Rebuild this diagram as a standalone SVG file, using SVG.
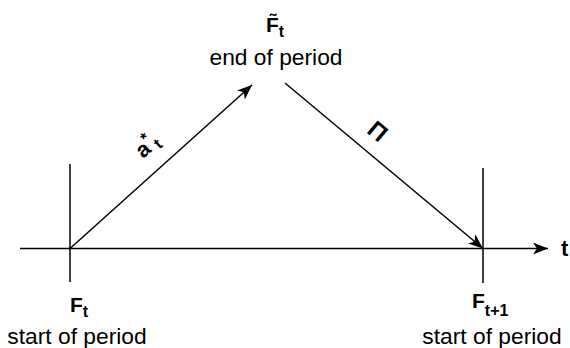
<svg xmlns="http://www.w3.org/2000/svg" width="570" height="348" viewBox="0 0 570 348">
<defs>
<marker id="ah" viewBox="0 0 15 12" refX="15" refY="6" markerWidth="15" markerHeight="12" markerUnits="userSpaceOnUse" orient="auto">
<path d="M0,0 L15,6 L0,12 L4,6 Z" fill="#000"/>
</marker>
</defs>
<style>
.ln{stroke:#000;stroke-width:1.5;fill:none}
.lbl{font-family:"Liberation Sans",Arial,sans-serif;font-size:22.8px;fill:#000}
.b{font-weight:bold;font-size:21px}
.sub{font-size:16px;font-weight:bold}
</style>
<g id="connectors">
<line class="ln" x1="20" y1="248.5" x2="548" y2="248.5" marker-end="url(#ah)"/>
<line class="ln" x1="70" y1="248.5" x2="252" y2="85" marker-end="url(#ah)"/>
<line class="ln" x1="285" y1="83" x2="483" y2="248.5" marker-end="url(#ah)"/>
</g>
<g id="tick-left"><line class="ln" x1="70" y1="164" x2="70" y2="282"/></g>
<g id="tick-right"><line class="ln" x1="483" y1="168" x2="483" y2="283"/></g>
<g id="node-top">
<text class="lbl b" x="266" y="32" fill="#505064">F&#x303;<tspan class="sub" dy="5" fill="#000">t</tspan></text>
<text class="lbl" x="276" y="65" text-anchor="middle">end of period</text>
</g>
<g id="node-left">
<text class="lbl b" x="70" y="312">F<tspan class="sub" dy="5">t</tspan></text>
<text class="lbl" x="77" y="344" text-anchor="middle">start of period</text>
</g>
<g id="node-right">
<text class="lbl b" x="472" y="308">F<tspan class="sub" dy="8">t+1</tspan></text>
<text class="lbl" x="492" y="344" text-anchor="middle">start of period</text>
</g>
<g id="label-t"><text class="lbl b" x="561" y="256" style="font-size:22px">t</text></g>
<g id="label-a"><text class="lbl b" transform="translate(152,151) rotate(-42)" text-anchor="middle" style="font-size:22px">a<tspan class="sub" dy="-9">*</tspan><tspan class="sub" dy="13">t</tspan></text></g>
<g id="label-pi"><text class="lbl b" transform="translate(372.5,137.6) rotate(40)" text-anchor="middle" style="font-size:24px">Π</text></g>
</svg>
